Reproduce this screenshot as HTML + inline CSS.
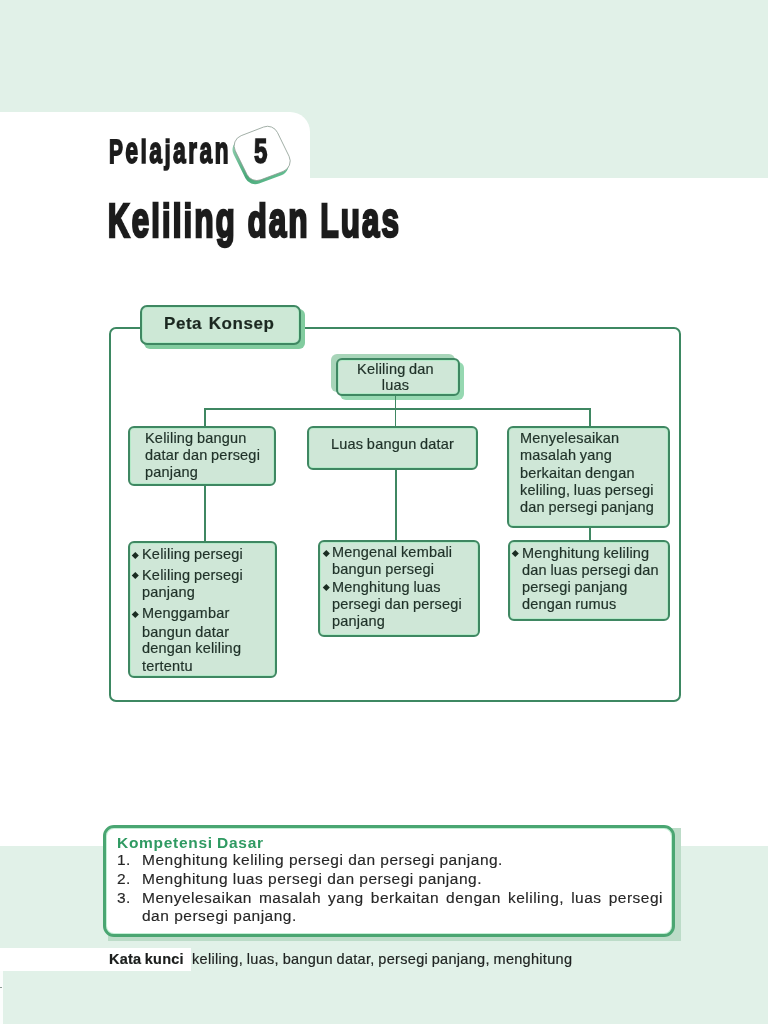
<!DOCTYPE html>
<html><head><meta charset="utf-8">
<style>
html,body{margin:0;padding:0;}
.t,.kd,.cond,.gap{will-change:transform;}
.gap{position:absolute;background:#fff;}
.sy2{display:inline-block;transform:scaleY(0.9);transform-origin:50% 34.5px;}
.sy{display:inline-block;transform:scaleY(0.94);transform-origin:50% 45.3px;}
body{width:768px;height:1024px;position:relative;overflow:hidden;background:#fff;font-family:"Liberation Sans",sans-serif;}
.a{position:absolute;}
.bg{background:#e1f1e8;}
.t{position:absolute;white-space:nowrap;font-size:14.5px;line-height:17px;letter-spacing:0.2px;word-spacing:-0.6px;color:#1f3128;-webkit-text-stroke:0.2px #1f3128;transform:translateY(0.6px);}
.box{position:absolute;box-sizing:border-box;border:2px solid #3f8762;background:#cfe7d7;border-radius:6px;box-shadow:inset 0 0 0 1px #b4eac8;}
.ln{position:absolute;background:#3f8762;}
.dot{position:absolute;width:4.6px;height:4.6px;margin:-0.2px 0 0 -0.2px;background:#1a2c22;transform:rotate(45deg);}
.cond{position:absolute;white-space:nowrap;font-weight:bold;color:#1c1c1c;transform-origin:0 0;-webkit-text-stroke:0.9px #1c1c1c;}
.kd{position:absolute;white-space:nowrap;font-size:15.5px;line-height:18.8px;letter-spacing:0.5px;color:#262626;-webkit-text-stroke:0.15px #262626;}
</style></head>
<body>
<!-- top band -->
<div class="a bg" style="left:0;top:0;width:768px;height:178px;"></div>
<div class="a" style="left:0;top:112px;width:310px;height:80px;background:#fff;border-top-right-radius:20px;"></div>

<!-- Pelajaran -->
<div class="cond" style="left:109px;top:129px;font-size:36px;line-height:44px;letter-spacing:3.95px;transform:scaleX(0.63);-webkit-text-stroke:1.8px #1c1c1c;"><span style="font-size:33px">P</span>e<span class="sy2">l</span>a<span class="sy2">j</span>aran</div>
<svg class="a" style="left:0;top:0" width="768" height="200" viewBox="0 0 768 200">
  <defs><linearGradient id="bg5" x1="0" y1="0" x2="1" y2="1"><stop offset="0" stop-color="#a5dcc0"/><stop offset="0.55" stop-color="#4aa97a"/><stop offset="1" stop-color="#6cc69a"/></linearGradient></defs>
  <path d="M241.17,135.66 L263.59,127.02 A11,11 0 0 1 277.43,132.46 L289.08,156.32 A11,11 0 0 1 283.06,171.45 L260.70,179.82 A11,11 0 0 1 246.99,174.41 L235.27,150.82 A11,11 0 0 1 241.17,135.66 Z" fill="url(#bg5)" transform="translate(-1.6,3.8)"/>
  <path d="M241.17,135.66 L263.59,127.02 A11,11 0 0 1 277.43,132.46 L289.08,156.32 A11,11 0 0 1 283.06,171.45 L260.70,179.82 A11,11 0 0 1 246.99,174.41 L235.27,150.82 A11,11 0 0 1 241.17,135.66 Z" fill="#fff" stroke="#8a9a90" stroke-width="0.8"/>
</svg>
<div class="cond" style="left:253.5px;top:129px;font-size:35px;line-height:44px;transform:scaleX(0.68);-webkit-text-stroke:1.7px #1c1c1c;">5</div>

<!-- Title -->
<div class="cond" style="left:108px;top:192px;font-size:50px;line-height:56px;letter-spacing:3.2px;transform:scaleX(0.63);-webkit-text-stroke:2.7px #1c1c1c;"><span style="font-size:47.5px">K</span>e<span class="sy">l</span><span class="sy">i</span><span class="sy">l</span><span class="sy">i</span>ng <span class="sy">d</span>an <span style="font-size:47.5px">L</span>uas</div>

<!-- dot gaps -->

<!-- Frame -->
<div class="a" style="left:109px;top:327px;width:572px;height:375px;box-sizing:border-box;border:2px solid #3d8862;border-radius:7px;"></div>

<!-- Peta Konsep -->
<div class="a" style="left:144px;top:309px;width:161px;height:40px;background:#82cc9f;border-radius:6px;"></div>
<div class="box" style="left:140px;top:305px;width:161px;height:40px;border-radius:7px;background:#cde8d6;"></div>
<div class="t" style="left:164px;top:313px;font-size:17px;line-height:20px;font-weight:bold;letter-spacing:0.55px;word-spacing:1.3px;color:#1b2720;">Peta Konsep</div>

<!-- top node -->
<div class="a" style="left:331px;top:354px;width:124px;height:38px;background:#a8d5b9;border-radius:6px;"></div>
<div class="a" style="left:340px;top:362px;width:124px;height:38px;background:#96d8b1;border-radius:6px;"></div>
<div class="box" style="left:336px;top:358px;width:124px;height:38px;"></div>
<div class="t" style="left:336px;width:119px;text-align:center;top:360.2px;line-height:16.3px;">Keliling dan<br>luas</div>

<!-- connectors -->
<div class="ln" style="left:395px;top:396px;width:1px;height:31px;"></div>
<div class="ln" style="left:205px;top:408px;width:385px;height:2px;"></div>
<div class="ln" style="left:204px;top:408px;width:2px;height:19px;"></div>
<div class="ln" style="left:589px;top:408px;width:2px;height:19px;"></div>
<div class="ln" style="left:204px;top:485px;width:1.5px;height:57px;"></div>
<div class="ln" style="left:395px;top:469px;width:1.5px;height:73px;"></div>
<div class="ln" style="left:589px;top:527px;width:1.5px;height:15px;"></div>

<!-- level 2 -->
<div class="box" style="left:128px;top:426px;width:148px;height:60px;"></div>
<div class="t" style="left:144.5px;top:429.2px;line-height:16.8px;">Keliling bangun<br>datar dan persegi<br>panjang</div>

<div class="box" style="left:307px;top:426px;width:171px;height:44px;"></div>
<div class="t" style="left:330.5px;top:434.7px;">Luas bangun datar</div>

<div class="box" style="left:507px;top:426px;width:163px;height:102px;"></div>
<div class="t" style="left:520px;top:428.7px;line-height:17.28px;">Menyelesaikan<br>masalah yang<br>berkaitan dengan<br>keliling, luas persegi<br>dan persegi panjang</div>

<!-- level 3 -->
<div class="box" style="left:128px;top:541px;width:149px;height:137px;"></div>
<div class="dot" style="left:133.3px;top:553.4px;"></div>
<div class="t" style="left:141.7px;top:545.4px;">Keliling persegi</div>
<div class="dot" style="left:133.3px;top:573.5px;"></div>
<div class="t" style="left:141.7px;top:565.5px;">Keliling persegi</div>
<div class="t" style="left:141.7px;top:583.1px;">panjang</div>
<div class="dot" style="left:133.3px;top:612.0px;"></div>
<div class="t" style="left:141.7px;top:604.0px;">Menggambar</div>
<div class="t" style="left:141.7px;top:622.6px;">bangun datar</div>
<div class="t" style="left:141.7px;top:639.2px;">dengan keliling</div>
<div class="t" style="left:141.7px;top:656.8px;">tertentu</div>

<div class="box" style="left:318px;top:540px;width:162px;height:97px;"></div>
<div class="dot" style="left:323.8px;top:551.2px;"></div>
<div class="t" style="left:332.2px;top:543.2px;">Mengenal kembali</div>
<div class="t" style="left:332.2px;top:560.2px;">bangun persegi</div>
<div class="dot" style="left:323.8px;top:585.5px;"></div>
<div class="t" style="left:332.2px;top:577.5px;">Menghitung luas</div>
<div class="t" style="left:332.2px;top:595.2px;">persegi dan persegi</div>
<div class="t" style="left:332.2px;top:611.9px;">panjang</div>

<div class="box" style="left:508px;top:540px;width:162px;height:81px;"></div>
<div class="dot" style="left:513.4px;top:551.5px;"></div>
<div class="t" style="left:522.3px;top:543.5px;">Menghitung keliling</div>
<div class="t" style="left:522.3px;top:560.5px;">dan luas persegi dan</div>
<div class="t" style="left:522.3px;top:577.9px;">persegi panjang</div>
<div class="t" style="left:522.3px;top:594.5px;">dengan rumus</div>

<!-- bottom band -->
<div class="a bg" style="left:0;top:846px;width:768px;height:178px;"></div>
<div class="a" style="left:0;top:948px;width:191px;height:23px;background:#fff;"></div>
<div class="a" style="left:0;top:971px;width:2.5px;height:53px;background:#fbfdfc;"></div>
<div class="a" style="left:0;top:987px;width:2px;height:1px;background:#8a9a92;"></div>

<!-- KD box -->
<div class="a" style="left:108px;top:828px;width:573px;height:113px;background:#bcdcc8;"></div>
<div class="a" style="left:103px;top:825px;width:572px;height:112px;box-sizing:border-box;border:3px solid #4aa672;border-radius:11px;background:#fff;box-shadow:inset 0 0 0 1px #c4f0d6;"></div>
<div class="t" style="left:117px;top:832.6px;font-size:15.5px;line-height:18px;font-weight:bold;letter-spacing:0.7px;color:#2f9a62;-webkit-text-stroke:0;">Kompetensi Dasar</div>
<div class="kd" style="left:117px;top:850.9px;">1.</div>
<div class="kd" style="left:142px;top:850.9px;">Menghitung keliling persegi dan persegi panjang.</div>
<div class="kd" style="left:117px;top:869.6px;">2.</div>
<div class="kd" style="left:142px;top:869.6px;">Menghitung luas persegi dan persegi panjang.</div>
<div class="kd" style="left:117px;top:888.7px;">3.</div>
<div class="kd" style="left:142px;top:888.7px;width:521px;text-align:justify;text-align-last:justify;white-space:normal;">Menyelesaikan masalah yang berkaitan dengan keliling, luas persegi</div>
<div class="kd" style="left:142px;top:907.1px;">dan persegi panjang.</div>

<!-- Kata kunci -->
<div class="t" style="left:109px;top:950px;font-size:14.5px;font-weight:bold;letter-spacing:0.2px;color:#1d1d1d;">Kata kunci</div>
<div class="t" style="left:192px;top:950px;font-size:14.5px;letter-spacing:0.3px;color:#222;">keliling, luas, bangun datar, persegi panjang, menghitung</div>
</body></html>
